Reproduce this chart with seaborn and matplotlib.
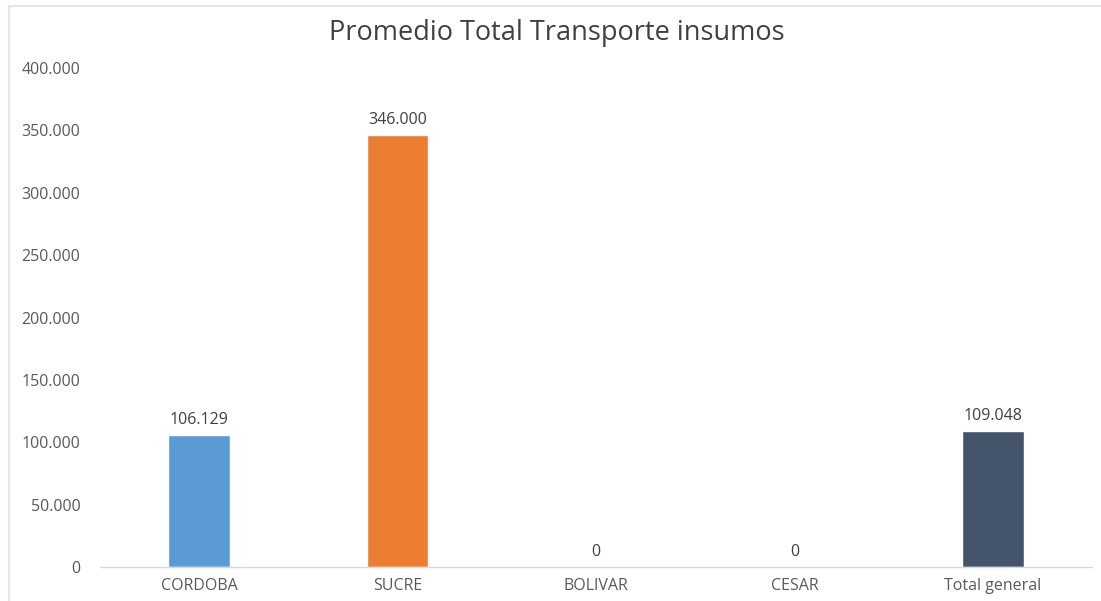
import pandas as pd
import matplotlib.pyplot as plt
import seaborn as sns
from matplotlib.patches import Rectangle

# Data
categorias = ["CORDOBA", "SUCRE", "BOLIVAR", "CESAR", "Total general"]
promedios = [106129, 346000, 0, 0, 109048]
colores = ["#5B9BD5", "#ED7D31", "#A5A5A5", "#FFC000", "#44546A"]
ticks_y = [0, 50000, 100000, 150000, 200000, 250000, 300000, 350000, 400000]

df = pd.DataFrame({"categoria": categorias, "promedio": promedios})

def fmt(v):
    return f"{int(v):,}".replace(",", ".")

sns.set_style("white")
plt.rcParams["font.family"] = ["Open Sans", "DejaVu Sans"]

fig = plt.figure(figsize=(11.01, 6.01), dpi=100)
ax = fig.add_axes([100 / 1101, 1 - 567 / 601, 992 / 1101, (567 - 68) / 601])

sns.barplot(data=df, x="categoria", y="promedio", hue="categoria",
            palette=colores, width=0.31, saturation=1, legend=False, ax=ax)

ax.set_ylim(0, 400000)
ax.set_yticks(ticks_y)
ax.set_yticklabels([fmt(t) for t in ticks_y])
ax.set_xlim(-0.5, len(categorias) - 0.5)
ax.set_xlabel("")
ax.set_ylabel("")
ax.tick_params(axis="both", length=0, labelsize=11.5, colors="#595959")
ax.tick_params(axis="y", pad=14)
ax.tick_params(axis="x", pad=8)

for s in ["top", "right", "left"]:
    ax.spines[s].set_visible(False)
ax.spines["bottom"].set_color("#D9D9D9")
ax.spines["bottom"].set_linewidth(1)

# data labels
for i, v in enumerate(promedios):
    ax.annotate(fmt(v), (i, v), xytext=(0, 5), textcoords="offset points",
                ha="center", va="bottom", fontsize=11.5, color="#404040")

fig.text(557 / 1101, 1 - 33 / 601, "Promedio Total Transporte insumos",
         ha="center", va="center", fontsize=19.5, color="#404040")

# light chart border (left and top edges visible only)
fig.patches.append(Rectangle((9 / 1101, -0.2), 1.5, 1.2 - 6 / 601,
                             transform=fig.transFigure, fill=False,
                             edgecolor="#E6E6E6", linewidth=1.5))

fig.savefig("out.png", dpi=100)
